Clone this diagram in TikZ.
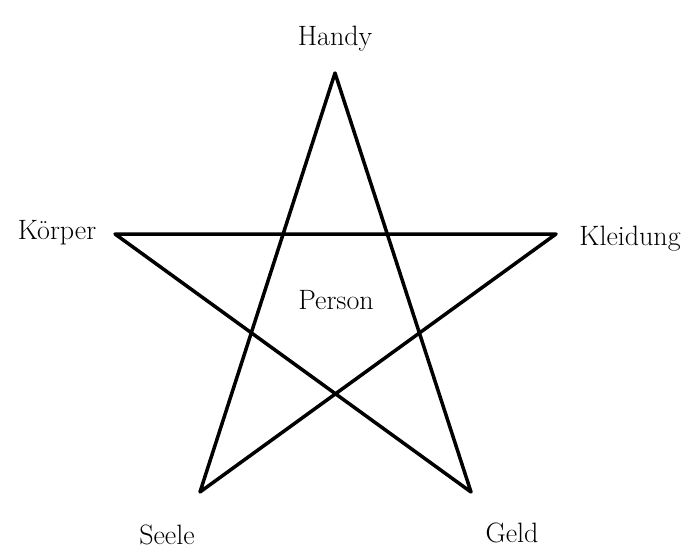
\documentclass[tikz,border=0pt]{standalone}
\begin{document}
\begin{tikzpicture}[x=1pt,y=-1pt,
  lbl/.style={anchor=base, inner sep=0pt, font=\fontsize{28}{32}\selectfont},
  starline/.style={line width=3.5pt, line join=round, line cap=round}]
\useasboundingbox (0,0) rectangle (684,549);
\coordinate (top) at (335,73);
\coordinate (left) at (115,234);
\coordinate (right) at (556,234);
\coordinate (bl) at (200,492);
\coordinate (br) at (471,492);
\draw[starline] (top) -- (br) -- (left) -- (right) -- (bl) -- cycle;
\node[lbl] (handy) at (335,45) {Handy};
\node[lbl] (koerper) at (57,239) {Körper};
\node[lbl] (kleidung) at (630,245) {Kleidung};
\node[lbl] (seele) at (167,544) {Seele};
\node[lbl] (geld) at (512,542) {Geld};
\node[lbl] (person) at (336,309) {Person};
\end{tikzpicture}
\end{document}
